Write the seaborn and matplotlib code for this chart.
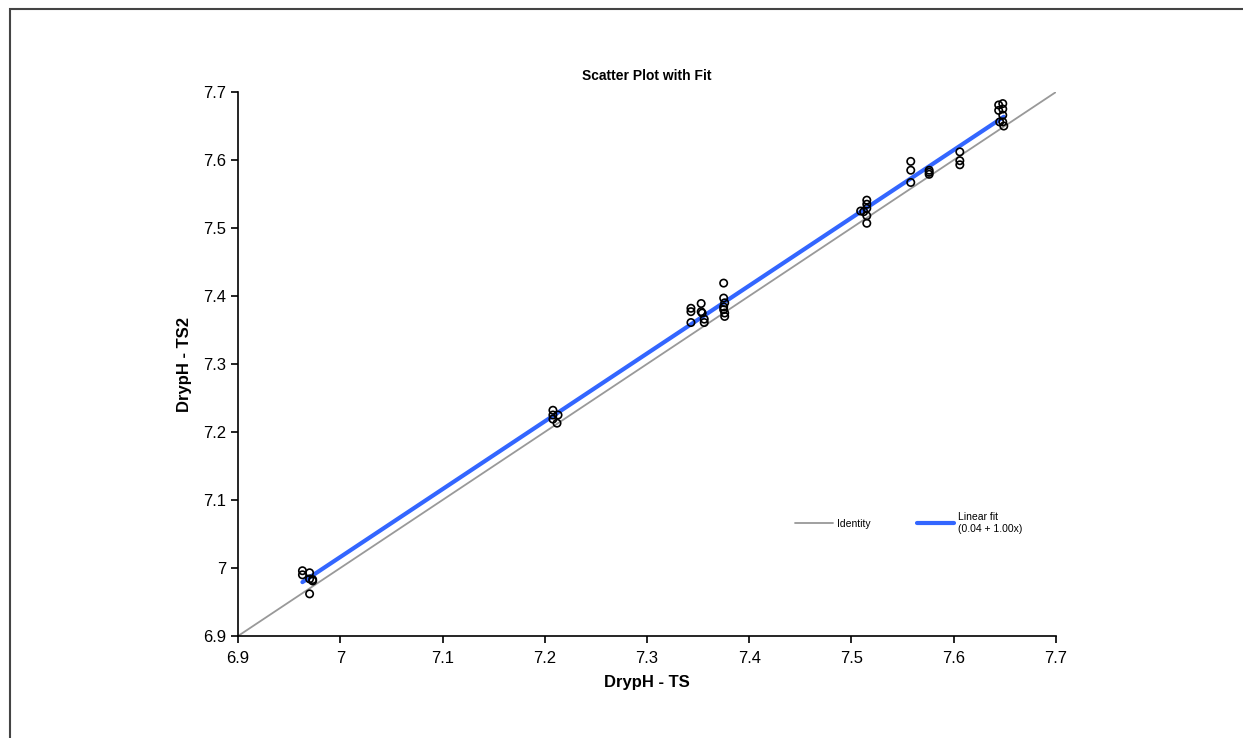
import numpy as np
import pandas as pd
import seaborn as sns
import matplotlib.pyplot as plt
from matplotlib.patches import Rectangle
from matplotlib.ticker import FuncFormatter

# Data (dry pH, two sensors)
ts = [6.963, 6.963, 6.970, 6.970, 6.973, 6.970, 6.973,
      7.208, 7.208, 7.208, 7.213, 7.212,
      7.343, 7.343, 7.343, 7.353, 7.353, 7.354, 7.356, 7.356,
      7.375, 7.375, 7.376, 7.375, 7.375, 7.376, 7.376,
      7.509, 7.512, 7.515, 7.515, 7.515, 7.515, 7.515,
      7.558, 7.558, 7.558, 7.576, 7.576, 7.576, 7.606, 7.606, 7.606,
      7.644, 7.648, 7.644, 7.648, 7.648, 7.645, 7.648, 7.649]
ts2 = [6.996, 6.990, 6.993, 6.984, 6.981, 6.962, 6.983,
       7.232, 7.225, 7.219, 7.225, 7.213,
       7.382, 7.377, 7.361, 7.389, 7.377, 7.375, 7.366, 7.361,
       7.419, 7.397, 7.390, 7.384, 7.380, 7.375, 7.370,
       7.525, 7.524, 7.541, 7.535, 7.529, 7.518, 7.507,
       7.598, 7.585, 7.567, 7.585, 7.582, 7.579, 7.612, 7.599, 7.593,
       7.681, 7.683, 7.673, 7.675, 7.666, 7.656, 7.656, 7.650]
identity = [6.9, 7.7]
ticks = [6.9, 7.0, 7.1, 7.2, 7.3, 7.4, 7.5, 7.6, 7.7]
fit_label = "Linear fit\n(0.04 + 1.00x)"

df = pd.DataFrame({"TS": ts, "TS2": ts2})

sns.set_theme(style="white")
plt.rcParams["font.family"] = ["Liberation Sans", "DejaVu Sans"]
plt.rcParams["text.color"] = "black"
plt.rcParams["axes.labelcolor"] = "black"

fig = plt.figure(figsize=(12.43, 7.38), dpi=100)
ax = fig.add_axes([0.1915, 0.1382, 0.658, 0.7371])

# outer frame (only top/left edges visible in the crop)
fig.patches.append(Rectangle((10 / 1243, -0.05), 1.2, 1 - 9 / 738 + 0.05,
                             transform=fig.transFigure, fill=False,
                             edgecolor="#444444", linewidth=1.5, zorder=0))

ax.plot(identity, identity, color="#999999", linewidth=1.3, label="Identity")
sns.regplot(data=df, x="TS", y="TS2", ax=ax, ci=None, scatter=False,
            line_kws={"color": "#3366FF", "linewidth": 3}, label=fit_label)
sns.scatterplot(data=df, x="TS", y="TS2", ax=ax, s=28, marker="o",
                facecolor="none", edgecolor="black", linewidth=1.2, zorder=5)

ax.set_xlim(6.9, 7.7)
ax.set_ylim(6.9, 7.7)
ax.set_xticks(ticks)
ax.set_yticks(ticks)
fmt = FuncFormatter(lambda v, p: f"{v:g}")
ax.xaxis.set_major_formatter(fmt)
ax.yaxis.set_major_formatter(fmt)
ax.tick_params(axis="both", direction="out", length=5, width=1.2,
               labelsize=12, colors="black", bottom=True, left=True)
ax.tick_params(axis="x", pad=6)
for side in ["top", "right"]:
    ax.spines[side].set_visible(False)
for side in ["left", "bottom"]:
    ax.spines[side].set_color("black")
    ax.spines[side].set_linewidth(1.2)

ax.set_title("Scatter Plot with Fit", fontsize=10, fontweight="bold", pad=9)
ax.set_xlabel("DrypH - TS", fontsize=12, fontweight="bold", labelpad=6)
ax.set_ylabel("DrypH - TS2", fontsize=12, fontweight="bold", labelpad=8)

ax.legend(loc="upper left", bbox_to_anchor=(0.670, 0.245), ncol=2, frameon=False,
          fontsize=7.5, handlelength=3.6, columnspacing=4.4, handletextpad=0.4)

fig.savefig("out.png", dpi=100)
